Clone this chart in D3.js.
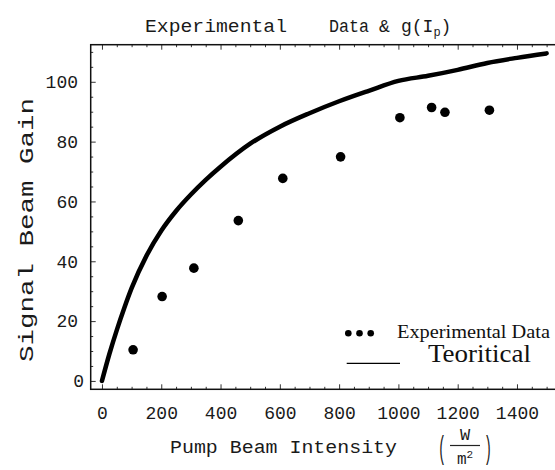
<!DOCTYPE html>
<html>
<head>
<meta charset="utf-8">
<script src="https://cdn.jsdelivr.net/npm/d3@7"></script>
<style>
  body { margin: 0; background: #fff; }
  svg { display: block; }
  .mono { font-family: "Liberation Mono", "DejaVu Sans Mono", monospace; fill: #1a1a1a; }
  .serif { font-family: "Liberation Serif", "DejaVu Serif", serif; fill: #111; }
</style>
</head>
<body>
<div id="chart"></div>
<script>
// measured points (pump intensity W/m^2, signal gain)
const expIntensity = [105, 203, 310, 460, 610, 805, 1005, 1112, 1157, 1307];
const expGain = [10.4, 28.2, 37.7, 53.6, 67.7, 74.9, 88, 91.4, 89.8, 90.5];

// theoretical curve g(Ip)
const curveIntensity = [0, 25, 50, 75, 100, 150, 200, 250, 300, 350, 400, 500, 600, 700, 800, 900, 1000, 1100, 1200, 1300, 1400, 1500];
const curveGain = [0, 9, 17, 24.3, 31, 41.8, 50.2, 56.8, 62.3, 67.2, 71.6, 79.3, 85, 89.5, 93.5, 97, 100.3, 102, 104, 106.3, 108, 109.5];

const xTicks = [0, 200, 400, 600, 800, 1000, 1200, 1400];
const yTicks = [0, 20, 40, 60, 80, 100];

const width = 555, height = 470;

const x = d3.scaleLinear().domain([-38, 1535]).range([90.7, 557]);
const y = d3.scaleLinear().domain([-2.8, 112.4]).range([389.3, 44.7]);

const svg = d3.select("#chart").append("svg")
    .attr("width", width)
    .attr("height", height);

const frameL = x.range()[0], frameR = x.range()[1];
const frameT = y.range()[1], frameB = y.range()[0];

// minor ticks
const xMinor = d3.range(0, 1501, 50).filter(v => !xTicks.includes(v));
const yMinor = d3.range(0, 111, 5).filter(v => !yTicks.includes(v));

const tickStyle = g => {
    g.select(".domain").remove();
    g.selectAll("line").attr("stroke", "#333").attr("stroke-width", 1);
};

svg.append("g").attr("transform", `translate(0,${frameB})`)
    .call(d3.axisBottom(x).tickValues(xMinor).tickSize(-2.5).tickFormat(""))
    .call(tickStyle);
svg.append("g").attr("transform", `translate(0,${frameT})`)
    .call(d3.axisTop(x).tickValues(xMinor).tickSize(-2.5).tickFormat(""))
    .call(tickStyle);
svg.append("g").attr("transform", `translate(${frameL},0)`)
    .call(d3.axisLeft(y).tickValues(yMinor).tickSize(-2.5).tickFormat(""))
    .call(tickStyle);

// major ticks + labels
const xAxis = svg.append("g").attr("transform", `translate(0,${frameB})`)
    .call(d3.axisBottom(x).tickValues(xTicks).tickSize(-5).tickPadding(17).tickFormat(d3.format("d")))
    .call(tickStyle);
xAxis.selectAll("text")
    .attr("class", "mono")
    .attr("font-size", 18)
    .attr("fill", "#1a1a1a");

svg.append("g").attr("transform", `translate(0,${frameT})`)
    .call(d3.axisTop(x).tickValues(xTicks).tickSize(-5).tickFormat(""))
    .call(tickStyle);

const yAxis = svg.append("g").attr("transform", `translate(${frameL},0)`)
    .call(d3.axisLeft(y).tickValues(yTicks).tickSize(-5).tickPadding(12.7).tickFormat(d3.format("d")))
    .call(tickStyle);
yAxis.selectAll("text")
    .attr("class", "mono")
    .attr("font-size", 18)
    .attr("fill", "#1a1a1a")
    .attr("dx", d => d === 0 ? 6 : 0);

// frame
svg.append("rect")
    .attr("x", frameL).attr("y", frameT)
    .attr("width", frameR - frameL).attr("height", frameB - frameT)
    .attr("fill", "none")
    .attr("stroke", "#111")
    .attr("stroke-width", 1.5);

// theory curve
const line = d3.line()
    .x((d, i) => x(curveIntensity[i]))
    .y(d => y(d))
    .curve(d3.curveMonotoneX);

svg.append("path")
    .datum(curveGain)
    .attr("d", line)
    .attr("fill", "none")
    .attr("stroke", "#000")
    .attr("stroke-width", 4.5)
    .attr("stroke-linecap", "round");

// data points
svg.selectAll(".pt")
    .data(expGain)
    .enter()
    .append("circle")
    .attr("class", "pt")
    .attr("cx", (d, i) => x(expIntensity[i]))
    .attr("cy", d => y(d))
    .attr("r", 4.8)
    .attr("fill", "#000");

// title
const title = svg.append("g").attr("class", "mono").attr("font-size", 18);
title.append("text").attr("x", 145).attr("y", 32)
    .attr("textLength", 142).attr("lengthAdjust", "spacingAndGlyphs")
    .text("Experimental");
title.append("text").attr("x", 329).attr("y", 32)
    .attr("textLength", 40).attr("lengthAdjust", "spacingAndGlyphs")
    .text("Data");
title.append("text").attr("x", 379).attr("y", 32).text("&");
const gt = title.append("text").attr("x", 401).attr("y", 32);
gt.append("tspan").text("g(I");
gt.append("tspan").attr("font-size", 12).attr("dy", 4).text("p");
gt.append("tspan").attr("dy", -4).text(")");

// axis labels
svg.append("text")
    .attr("class", "mono")
    .attr("font-size", 19)
    .attr("x", 170).attr("y", 453)
    .attr("textLength", 227).attr("lengthAdjust", "spacingAndGlyphs")
    .text("Pump Beam Intensity");

// units (W / m^2)
const units = svg.append("g").attr("class", "mono");
units.append("text").attr("x", 438).attr("y", 458).attr("font-size", 32)
    .attr("textLength", 8).attr("lengthAdjust", "spacingAndGlyphs").text("(");
units.append("text").attr("x", 484).attr("y", 458).attr("font-size", 32)
    .attr("textLength", 8).attr("lengthAdjust", "spacingAndGlyphs").text(")");
units.append("text").attr("x", 465).attr("y", 440).attr("font-size", 17)
    .attr("text-anchor", "middle").text("W");
units.append("line")
    .attr("x1", 450).attr("x2", 480).attr("y1", 445.5).attr("y2", 445.5)
    .attr("stroke", "#222").attr("stroke-width", 1.2);
const mt = units.append("text").attr("x", 457).attr("y", 464).attr("font-size", 16);
mt.append("tspan").text("m");
mt.append("tspan").attr("font-size", 11).attr("dy", -6).text("2");

svg.append("text")
    .attr("class", "mono")
    .attr("font-size", 20)
    .attr("transform", "translate(33,230) rotate(-90)")
    .attr("text-anchor", "middle")
    .attr("textLength", 264).attr("lengthAdjust", "spacingAndGlyphs")
    .text("Signal Beam Gain");

// legend
const legendDots = [348.3, 359.5, 370.7];
svg.selectAll(".ldot")
    .data(legendDots)
    .enter()
    .append("circle")
    .attr("cx", d => d)
    .attr("cy", 333.3)
    .attr("r", 3.3)
    .attr("fill", "#000");

svg.append("text")
    .attr("class", "serif")
    .attr("font-size", 18)
    .attr("x", 397).attr("y", 337.7)
    .attr("textLength", 153).attr("lengthAdjust", "spacingAndGlyphs")
    .text("Experimental Data");

svg.append("line")
    .attr("x1", 346.7).attr("x2", 400)
    .attr("y1", 363.3).attr("y2", 363.3)
    .attr("stroke", "#000").attr("stroke-width", 1.3);

svg.append("text")
    .attr("class", "serif")
    .attr("font-size", 25)
    .attr("x", 428).attr("y", 362)
    .attr("textLength", 103).attr("lengthAdjust", "spacingAndGlyphs")
    .text("Teoritical");
</script>
</body>
</html>
